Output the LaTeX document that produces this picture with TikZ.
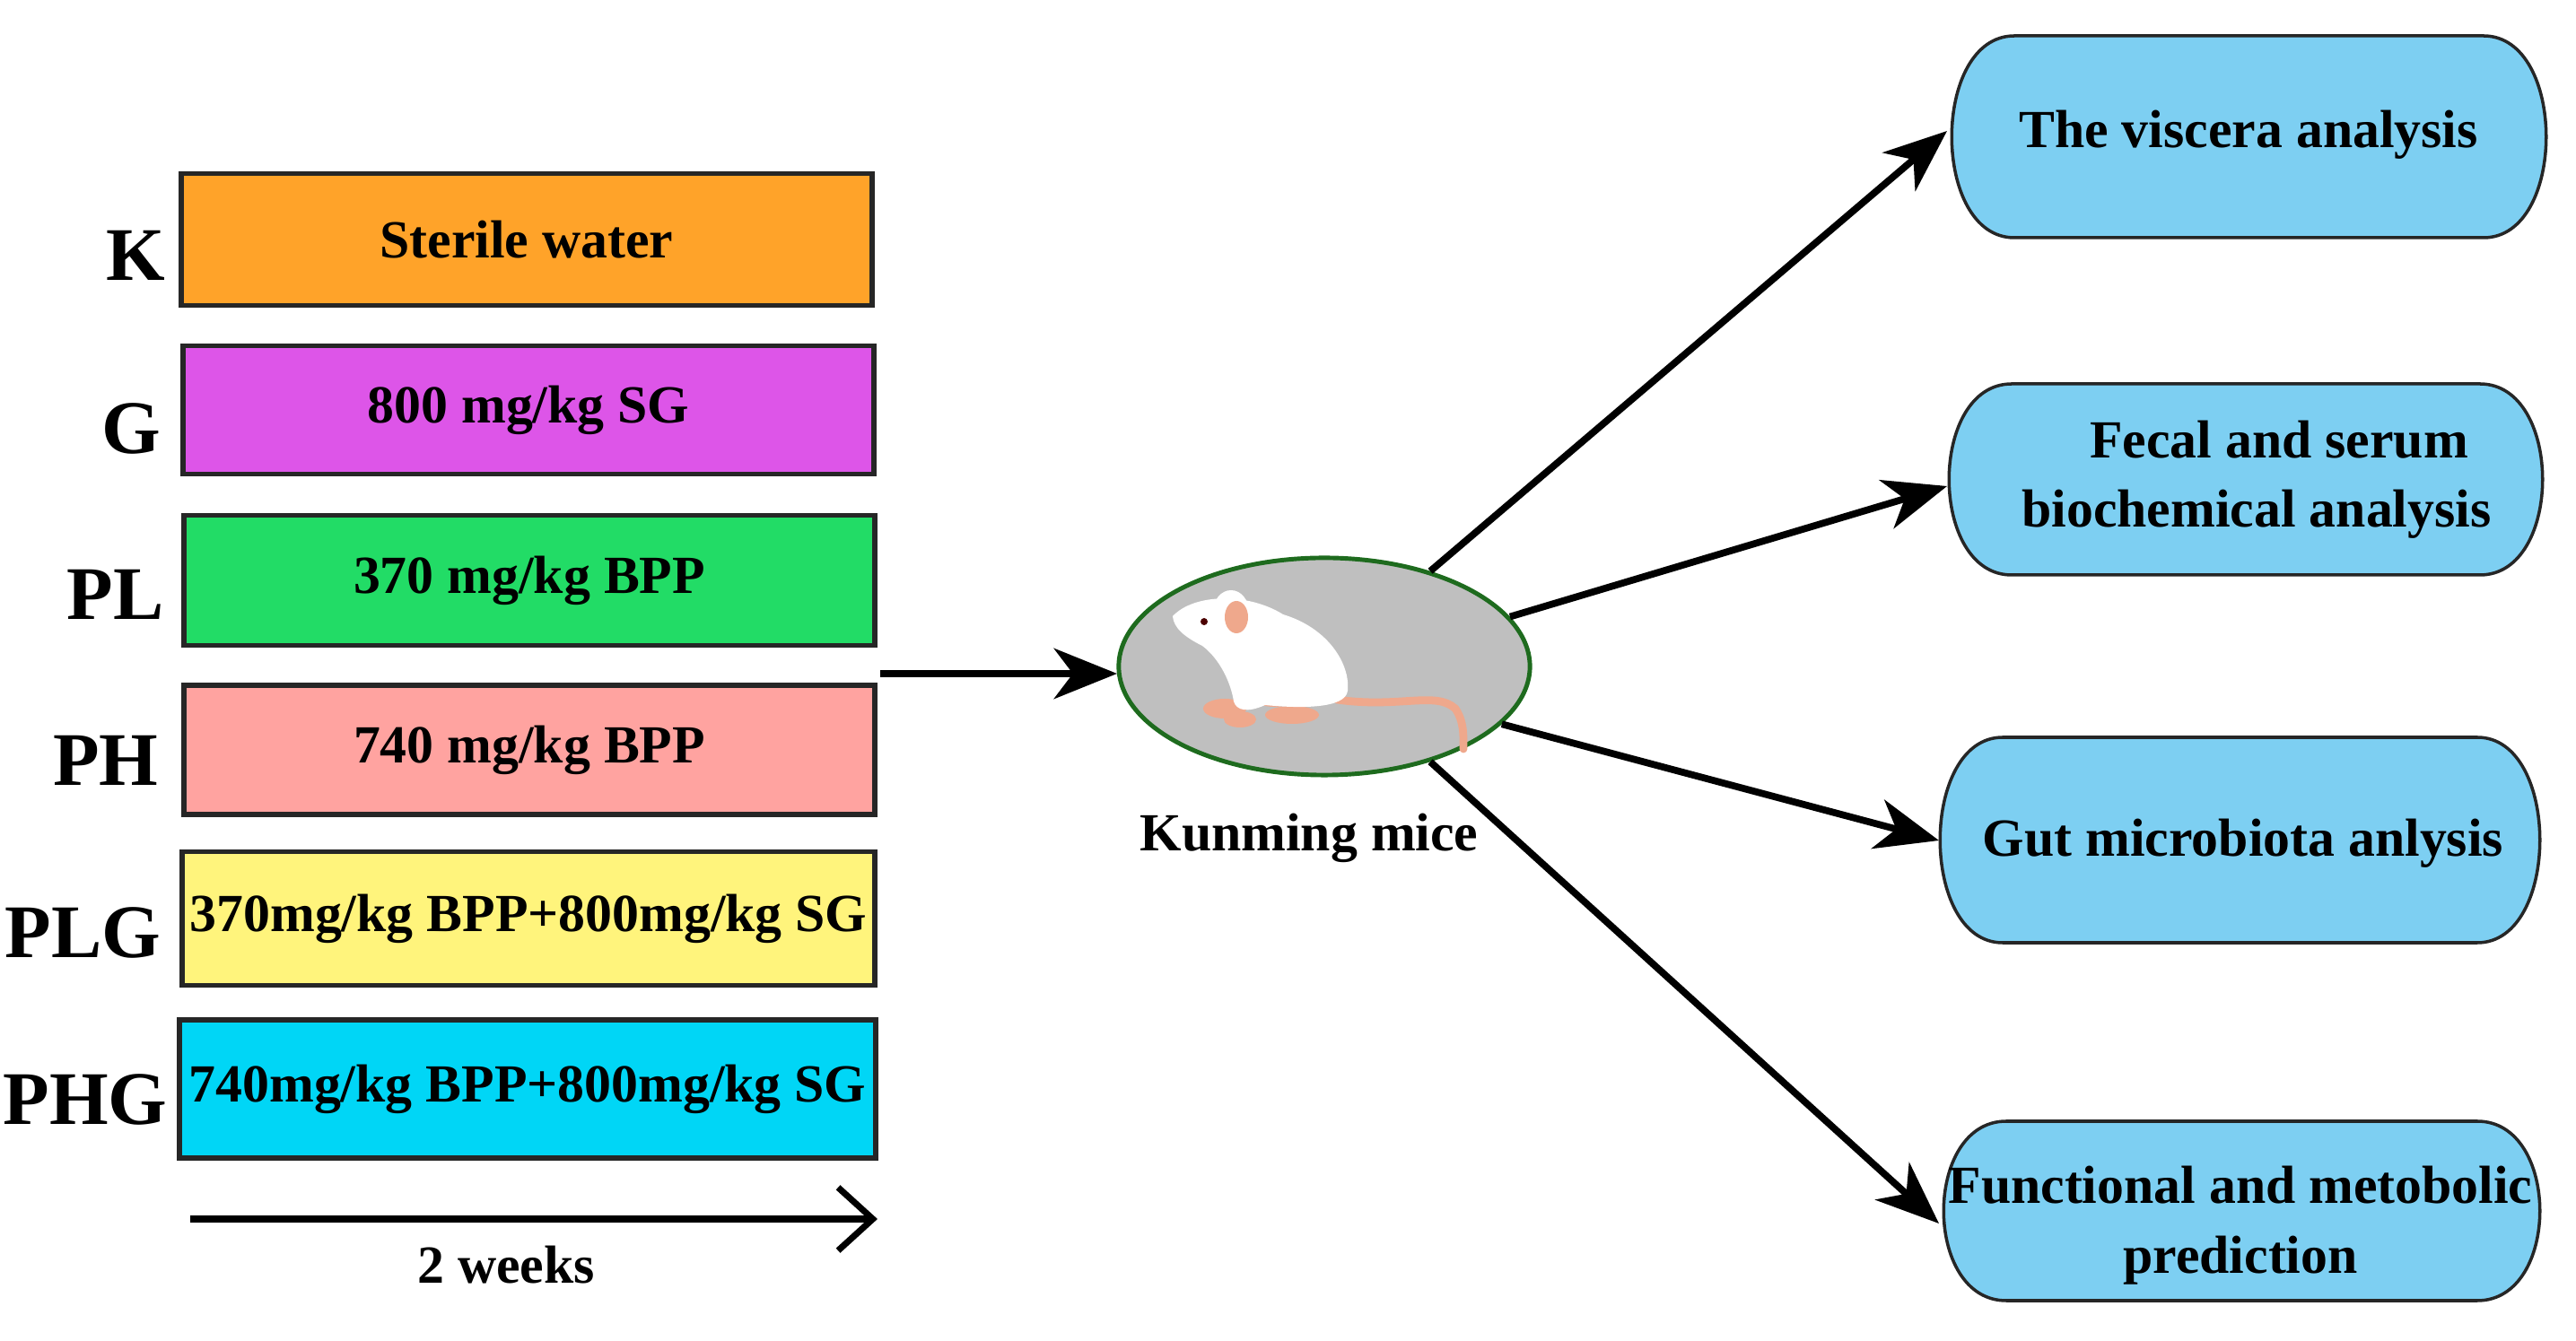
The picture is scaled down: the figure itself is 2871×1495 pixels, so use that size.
\documentclass[tikz,border=0pt]{standalone}
\usepackage{fontspec}
\setmainfont{Liberation Serif}
\usetikzlibrary{arrows.meta,shapes.geometric}
\definecolor{cK}{HTML}{FFA329}
\definecolor{cG}{HTML}{DD55E8}
\definecolor{cPL}{HTML}{22DC66}
\definecolor{cPH}{HTML}{FFA3A0}
\definecolor{cPLG}{HTML}{FFF47C}
\definecolor{cPHG}{HTML}{00D6F6}
\definecolor{cap}{HTML}{7DCFF2}
\definecolor{egreen}{HTML}{1E6B1E}
\definecolor{pinkm}{HTML}{EFA88C}
\begin{document}
\begin{tikzpicture}[x=0.01cm,y=-0.01cm,
  grp/.style={draw=black!85,line width=1.6pt,font=\bfseries\fontsize{17}{20}\selectfont,inner sep=0pt},
  lab/.style={anchor=east,font=\bfseries\fontsize{24}{26}\selectfont,inner sep=0pt},
  captxt/.style={font=\bfseries\fontsize{17}{22}\selectfont,align=center,inner sep=0pt},
  capshape/.style={fill=cap,draw=black!85,line width=1pt},
  arr/.style={line width=2.2pt,-{Stealth[length=20pt,width=16pt,inset=6pt]}}]
\useasboundingbox (0,0) rectangle (2871,1495);
% groups
\node[grp,fill=cK,minimum width=7.69cm,minimum height=1.47cm] (bK) at (587,267) {Sterile water};
\node[grp,fill=cG,minimum width=7.69cm,minimum height=1.43cm] (bG) at (589,457) {800 mg/kg SG};
\node[grp,fill=cPL,minimum width=7.70cm,minimum height=1.45cm] (bPL) at (590,647) {370 mg/kg BPP};
\node[grp,fill=cPH,minimum width=7.70cm,minimum height=1.44cm] (bPH) at (590,836) {740 mg/kg BPP};
\node[grp,fill=cPLG,minimum width=7.72cm,minimum height=1.49cm] (bPLG) at (589,1024) {370mg/kg BPP+800mg/kg SG};
\node[grp,fill=cPHG,minimum width=7.76cm,minimum height=1.54cm] (bPHG) at (588,1214) {740mg/kg BPP+800mg/kg SG};
\node[lab] (lK) at (185,285) {K};
\node[lab] (lG) at (180,478) {G};
\node[lab] (lPL) at (183,663) {PL};
\node[lab] (lPH) at (177,848) {PH};
\node[lab] (lPLG) at (180,1040) {PLG};
\node[lab] (lPHG) at (187,1226) {PHG};
% time arrow
\coordinate (t0) at (212,1359);
\coordinate (t1) at (978,1359);
\draw[line width=2pt,-{Straight Barb[length=11pt,width=20pt,line width=2pt]}] (t0) -- (t1);
\node[font=\bfseries\fontsize{17}{20}\selectfont] (tw) at (564,1410) {2 weeks};
% mouse ellipse
\node[ellipse,draw=egreen,line width=1.4pt,fill=black!25,minimum width=4.58cm,minimum height=2.42cm,inner sep=0pt] (mouse) at (1476,743) {};
\node[font=\bfseries\fontsize{17}{20}\selectfont] (km) at (1459,934) {Kunming mice};
% simple mouse drawing
\draw[pinkm,line width=2.5pt,line cap=round] (1490,780) .. controls (1560,790) and (1600,770) .. (1622,790) .. controls (1632,805) and (1631,820) .. (1631,835);
\fill[pinkm] (1365,790) ellipse (24 and 11);
\fill[pinkm] (1382,802) ellipse (18 and 9);
\fill[pinkm] (1440,797) ellipse (30 and 10);
\fill[pinkm] (1420,780) ellipse (20 and 8);
\fill[white] (1307,687) .. controls (1330,662) and (1390,660) .. (1430,685)
  .. controls (1480,700) and (1505,740) .. (1502,770)
  .. controls (1500,790) and (1450,790) .. (1410,786)
  .. controls (1390,795) and (1378,792) .. (1375,782)
  .. controls (1372,762) and (1360,735) .. (1340,720)
  .. controls (1320,710) and (1308,700) .. (1307,687) -- cycle;
\fill[white] (1372,682) ellipse (20 and 24);
\fill[pinkm] (1378,688) ellipse (13 and 18);
\fill[black!70!red] (1342,693) circle (4);
% outcome capsules
\foreach \n/\xa/\xb/\ya/\yb in {c1/2175/2838/40/265, c2/2172/2834/428/641, c3/2162/2831/822/1051, c4/2166/2831/1250/1450}{
  \draw[capshape] (\xa+70,\ya) -- (\xb-70,\ya) .. controls (\xb+23,\ya) and (\xb+23,\yb) .. (\xb-70,\yb)
     -- (\xa+70,\yb) .. controls (\xa-23,\yb) and (\xa-23,\ya) .. (\xa+70,\ya) -- cycle;
}
\node[captxt] (t1c) at (2506,150) {The viscera analysis};
\node[captxt] (t2c) at (2515,535) {\hspace*{0.5cm}Fecal and serum\\biochemical analysis};
\node[captxt] (t3c) at (2500,940) {Gut microbiota anlysis};
\node[captxt] (t4c) at (2497,1366) {Functional and metobolic\\prediction};
\coordinate (e1) at (2170,146);
\coordinate (e2) at (2170,542);
\coordinate (e3) at (2161,937);
\coordinate (e4) at (2161,1364);
\coordinate (in) at (1245,751);
\coordinate (out) at (981,751);
\draw[arr] (out) -- (in);
\draw[arr] (mouse.42) -- (e1);
\draw[arr] (mouse.15) -- (e2);
\draw[arr] (mouse.-18) -- (e3);
\draw[arr] (mouse.-42) -- (e4);
\end{tikzpicture}
\end{document}
